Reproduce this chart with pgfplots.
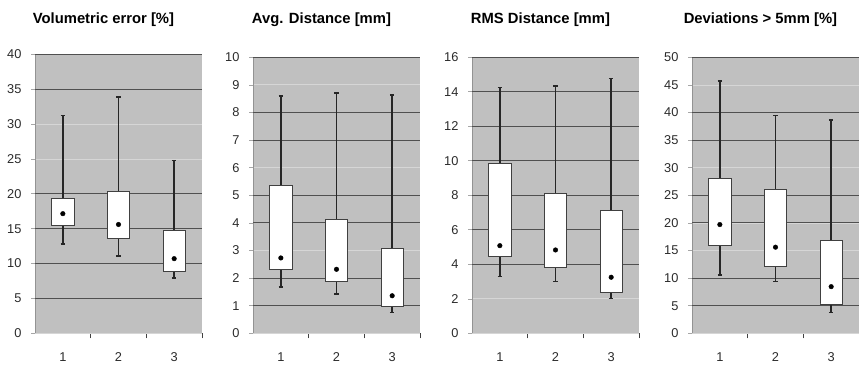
\documentclass[border=0pt]{standalone}
\usepackage{fontspec}
\setmainfont{Liberation Sans}
\usepackage{pgfplots}
\pgfplotsset{compat=1.18}
\usepgfplotslibrary{statistics}
\definecolor{bgc}{HTML}{C0C0C0}
\definecolor{gdark}{HTML}{505050}
\definecolor{glight}{HTML}{D6D6D6}
\definecolor{wcol}{HTML}{262626}
\definecolor{bcol}{HTML}{404040}
\definecolor{txt}{HTML}{2A2A2A}
\pgfplotsset{
  panel/.style={
    anchor=south west, scale only axis, width=167pt,
    xmin=0.5, xmax=3.5, ymin=0,
    axis background/.style={fill=bgc},
    axis x line*=bottom, axis y line*=left,
    x axis line style={draw=glight, line width=0.8pt, -},
    y axis line style={draw=gray!85, line width=0.8pt, -},
    xtick={1,2,3}, minor xtick={1.5,2.5,3.5},
    tick align=outside, major tick length=4pt, minor tick length=5pt,
    xtick style={draw=none},
    minor x tick style={draw=bcol, line width=0.9pt},
    ytick style={draw=gray!70, line width=0.6pt},
    ymajorgrids, major grid style={draw=glight, line width=0.8pt},
    extra y tick labels={},
    extra y tick style={major grid style={draw=gdark, line width=1pt}},
    tick label style={font=\fontsize{12.8}{12.8}\selectfont, text=txt},
    /pgf/number format/assume math mode=true,
    xticklabel style={yshift=-12pt},
    yticklabel style={xshift=-6pt},
    title style={at={(0.41,1)}, anchor=base, yshift=27.7pt, font=\bfseries\fontsize{14.8}{14.8}\selectfont, text=black},
    clip=false,
  },
  bx/.style={draw=bcol, fill=white, line width=0.9pt, solid,
    boxplot/draw direction=y,
    boxplot/whisker extend=0.08, boxplot/box extend=0.4,
    boxplot/every whisker/.style={draw=wcol, line width=1.5pt},
    boxplot/every median/.style={draw=bcol, line width=0.9pt}},
  mn/.style={only marks, mark=*, mark size=2.3pt, black},
}
\begin{document}
\begin{tikzpicture}
\path[use as bounding box] (0pt,0pt) rectangle (859pt,364pt);
% Panel 1
\begin{axis}[panel, at={(35pt,30.7pt)}, height=279pt, ymax=40,
  ytick={0,5,...,40}, extra y ticks={5,10,15,20,35,40},
  title style={yshift=-3pt},
  title={Volumetric error [\%]}]
\addplot[bx, boxplot prepared={draw position=1, lower whisker=12.8, lower quartile=15.4, median=15.4, upper quartile=19.4, upper whisker=31.2}] coordinates {};
\addplot[bx, boxplot prepared={draw position=2, lower whisker=11.1, lower quartile=13.65, median=13.65, upper quartile=20.3, upper whisker=33.9}] coordinates {};
\addplot[bx, boxplot prepared={draw position=3, lower whisker=7.95, lower quartile=8.86, median=8.86, upper quartile=14.75, upper whisker=24.8}] coordinates {};
\addplot[mn] coordinates {(1,17.15) (2,15.6) (3,10.7)};
\end{axis}
% Panel 2
\begin{axis}[panel, at={(253pt,30.7pt)}, height=276pt, ymax=10,
  ytick={0,1,...,10}, extra y ticks={1,2,4,5,7,8,10},
  title={Avg. Distance [mm]}]
\addplot[bx, boxplot prepared={draw position=1, lower whisker=1.67, lower quartile=2.33, median=2.33, upper quartile=5.35, upper whisker=8.59}] coordinates {};
\addplot[bx, boxplot prepared={draw position=2, lower whisker=1.43, lower quartile=1.88, median=1.88, upper quartile=4.14, upper whisker=8.70}] coordinates {};
\addplot[bx, boxplot prepared={draw position=3, lower whisker=0.76, lower quartile=0.97, median=0.97, upper quartile=3.06, upper whisker=8.64}] coordinates {};
\addplot[mn] coordinates {(1,2.73) (2,2.32) (3,1.36)};
\end{axis}
% Panel 3
\begin{axis}[panel, at={(472pt,30.7pt)}, height=276pt, ymax=16,
  ytick={0,2,...,16}, extra y ticks={4,6,8,10,12,14,16},
  title={RMS Distance [mm]}]
\addplot[bx, boxplot prepared={draw position=1, lower whisker=3.30, lower quartile=4.46, median=4.46, upper quartile=9.87, upper whisker=14.26}] coordinates {};
\addplot[bx, boxplot prepared={draw position=2, lower whisker=3.01, lower quartile=3.79, median=3.79, upper quartile=8.12, upper whisker=14.34}] coordinates {};
\addplot[bx, boxplot prepared={draw position=3, lower whisker=2.03, lower quartile=2.34, median=2.34, upper quartile=7.11, upper whisker=14.78}] coordinates {};
\addplot[mn] coordinates {(1,5.08) (2,4.83) (3,3.25)};
\end{axis}
% Panel 4
\begin{axis}[panel, at={(692pt,30.7pt)}, height=276pt, ymax=50,
  ytick={0,5,...,50}, extra y ticks={5,10,20,25,35,40,50},
  title={Deviations > 5mm [\%]}]
\addplot[bx, boxplot prepared={draw position=1, lower whisker=10.6, lower quartile=16.0, median=16.0, upper quartile=28.1, upper whisker=45.7}] coordinates {};
\addplot[bx, boxplot prepared={draw position=2, lower whisker=9.42, lower quartile=12.1, median=12.1, upper quartile=26.1, upper whisker=39.5}] coordinates {};
\addplot[bx, boxplot prepared={draw position=3, lower whisker=3.8, lower quartile=5.31, median=5.31, upper quartile=16.9, upper whisker=38.6}] coordinates {};
\addplot[mn] coordinates {(1,19.7) (2,15.6) (3,8.45)};
\end{axis}
\end{tikzpicture}
\end{document}
